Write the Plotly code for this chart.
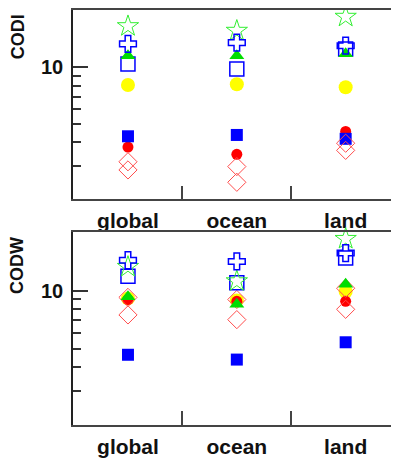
import plotly.graph_objects as go
from plotly.subplots import make_subplots

categories = ["global", "ocean", "land"]

# CODI (top panel)
codi_star = [16.5, 15.6, 18.5]
codi_cross = [13.3, 13.5, 13.0]
codi_open_square = [10.4, 9.8, 12.5]
codi_triangle = [11.5, 11.5, 11.8]
codi_yellow = [8.06, 8.12, 7.84]
codi_blue_square = [4.31, 4.38, 4.18]
codi_red_circle = [3.78, 3.46, 4.57]
codi_diamond1 = [3.16, 2.98, 3.96]
codi_diamond2 = [2.86, 2.46, 3.63]

# CODW (bottom panel)
codw_star = [13.3, 11.2, 18.6]
codw_cross = [14.4, 14.2, 15.7]
codw_open_square = [11.9, 11.0, 14.8]
codw_triangle = [9.3, 8.5, 10.8]
codw_yellow = [9.12, 8.9, 9.9]
codw_blue_square = [4.64, 4.38, 5.39]
codw_red_circle = [9.0, 8.8, 8.8]
codw_diamond1 = [9.23, 9.0, 10.3]
codw_diamond2 = [7.48, 7.07, 8.0]

y_ticks = [10]
y_minor = [3, 4, 5, 6, 7, 8, 9]

fig = make_subplots(rows=2, cols=1, vertical_spacing=0.08)

styles = {
    "yellow": dict(symbol="circle", color="#ffff00", size=14, line=dict(width=0)),
    "red_circle": dict(symbol="circle", color="#ff0000", size=11, line=dict(width=0)),
    "blue_square": dict(symbol="square", color="#0000ff", size=12, line=dict(width=0)),
    "diamond": dict(symbol="diamond-open", color="#ff4d4d", size=14, line=dict(width=1, color="#ff4d4d")),
    "open_square": dict(symbol="square-open", color="#0000ff", size=14, line=dict(width=1.5, color="#0000ff")),
    "triangle": dict(symbol="triangle-up", color="#00dd00", size=13, line=dict(width=0)),
    "cross": dict(symbol="cross-open", color="#0000ff", size=14, line=dict(width=1.5, color="#0000ff")),
    "star": dict(symbol="star-open", color="#33ee33", size=16, line=dict(width=1, color="#33ee33")),
}

panels = [
    (1, [("yellow", codi_yellow), ("red_circle", codi_red_circle), ("blue_square", codi_blue_square),
         ("diamond", codi_diamond1), ("diamond", codi_diamond2), ("open_square", codi_open_square),
         ("triangle", codi_triangle), ("star", codi_star), ("cross", codi_cross)]),
    (2, [("yellow", codw_yellow), ("red_circle", codw_red_circle), ("blue_square", codw_blue_square),
         ("diamond", codw_diamond1), ("diamond", codw_diamond2), ("open_square", codw_open_square),
         ("triangle", codw_triangle), ("star", codw_star), ("cross", codw_cross)]),
]

for row, series in panels:
    for key, vals in series:
        fig.add_trace(go.Scatter(x=categories, y=vals, mode="markers",
                                 marker=styles[key], showlegend=False, cliponaxis=False),
                      row=row, col=1)

x_font = dict(family="Liberation Sans, Arial", size=21, color="#111", weight="bold")
y_font = dict(family="Liberation Sans, Arial", size=20, color="#111", weight="bold")

for row, dom in [(1, [0.5439, 1.0]), (2, [0.0, 0.4639])]:
    fig.update_xaxes(row=row, col=1, type="category", range=[-0.505, 2.49],
                     tickson="boundaries", ticks="inside", ticklen=14, tickwidth=1.5,
                     tickcolor="#444", showline=True, linecolor="#444", linewidth=1.5,
                     mirror=True, showgrid=False, zeroline=False,
                     tickfont=x_font, ticklabelstandoff=2)
    fig.update_yaxes(row=row, col=1, type="log", range=[0.301, 1.303], domain=dom,
                     tickvals=y_ticks, ticktext=[str(v) for v in y_ticks],
                     ticks="inside", ticklen=15, tickwidth=1.5, tickcolor="#333",
                     minor=dict(tickvals=y_minor, ticks="inside", ticklen=8, tickwidth=1.5,
                                tickcolor="#333", showgrid=False),
                     showline=True, linecolor="#222", linewidth=1.5, mirror=False,
                     showgrid=False, zeroline=False, tickfont=y_font,
                     ticklabelstandoff=4)

fig.add_annotation(text="CODI", xref="paper", yref="paper", x=-0.17, y=0.995,
                   xanchor="center", yanchor="top", textangle=-90, showarrow=False,
                   font=dict(family="Liberation Sans, Arial", size=18, color="#111", weight="bold"))
fig.add_annotation(text="CODW", xref="paper", yref="paper", x=-0.17, y=0.458,
                   xanchor="center", yanchor="top", textangle=-90, showarrow=False,
                   font=dict(family="Liberation Sans, Arial", size=18, color="#111", weight="bold"))

# page body has an 8px default margin, so the figure is sized to fit the window
fig.update_layout(width=391, height=450, margin=dict(l=65, r=0, t=0, b=29),
                  plot_bgcolor="white", paper_bgcolor="white")

fig.write_html("out.html")
